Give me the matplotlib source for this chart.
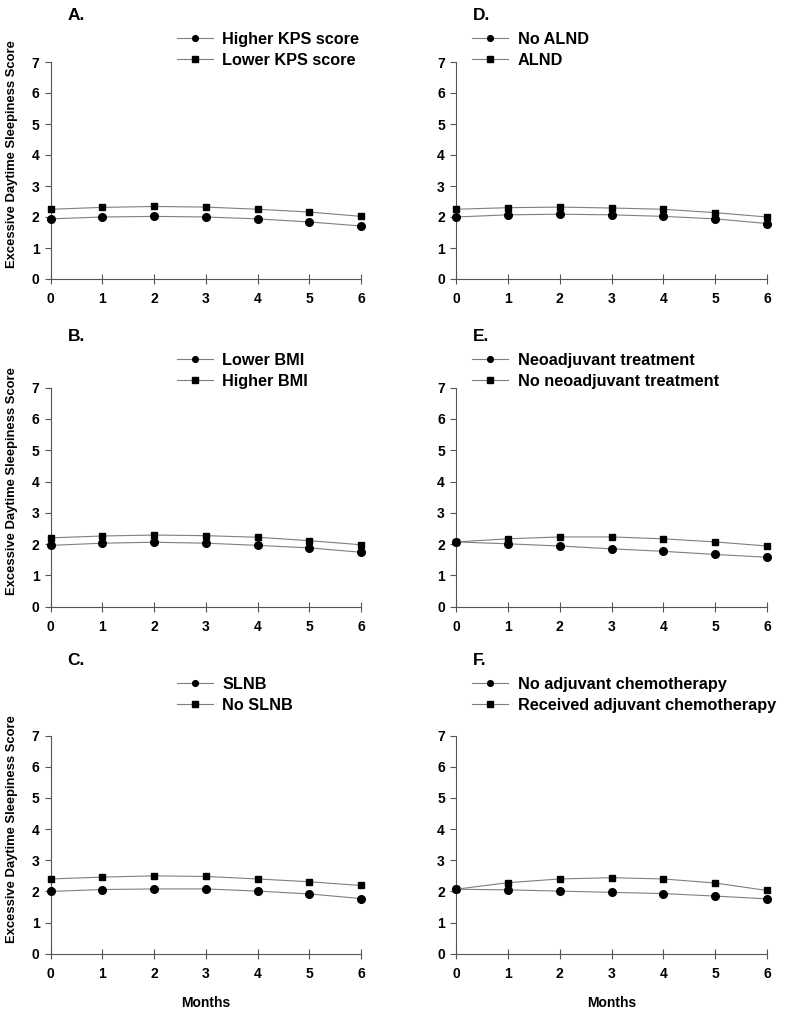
import matplotlib
matplotlib.use("Agg")
import matplotlib.pyplot as plt

months = [0, 1, 2, 3, 4, 5, 6]

panel_letters = ["A.", "B.", "C.", "D.", "E.", "F."]
circle_labels = ["Higher KPS score", "Lower BMI", "SLNB",
                 "No ALND", "Neoadjuvant treatment", "No adjuvant chemotherapy"]
square_labels = ["Lower KPS score", "Higher BMI", "No SLNB",
                 "ALND", "No neoadjuvant treatment", "Received adjuvant chemotherapy"]

circ_A = [1.94, 2.00, 2.02, 2.00, 1.94, 1.84, 1.71]
sq_A = [2.25, 2.31, 2.34, 2.32, 2.25, 2.16, 2.02]
circ_B = [1.96, 2.03, 2.06, 2.03, 1.96, 1.88, 1.74]
sq_B = [2.20, 2.26, 2.29, 2.27, 2.22, 2.11, 1.98]
circ_C = [2.00, 2.06, 2.08, 2.08, 2.01, 1.92, 1.77]
sq_C = [2.40, 2.46, 2.50, 2.48, 2.40, 2.31, 2.19]
circ_D = [2.00, 2.07, 2.09, 2.07, 2.02, 1.94, 1.79]
sq_D = [2.25, 2.30, 2.32, 2.29, 2.25, 2.14, 2.00]
circ_E = [2.07, 2.01, 1.94, 1.85, 1.77, 1.67, 1.58]
sq_E = [2.07, 2.17, 2.23, 2.23, 2.17, 2.07, 1.94]
circ_F = [2.07, 2.05, 2.01, 1.97, 1.93, 1.85, 1.76]
sq_F = [2.07, 2.28, 2.40, 2.44, 2.40, 2.27, 2.03]

circles = [circ_A, circ_B, circ_C, circ_D, circ_E, circ_F]
squares = [sq_A, sq_B, sq_C, sq_D, sq_E, sq_F]

yticks = [0, 1, 2, 3, 4, 5, 6, 7]
ylabel_text = 'Excessive Daytime Sleepiness Score'
xlabel_text = 'Months'

W, H = 789, 1013
plt.rcParams['font.family'] = ['Liberation Sans', 'DejaVu Sans']
fig = plt.figure(figsize=(W / 100, H / 100), dpi=100)

col_x = [50.7, 456]
col_w = [310.3, 311]
row_bottom = [279, 606.7, 953.7]
row_h = [217, 219, 218]
legend_handle_x = [177, 472]
legend_y = [41, 362, 686]
letter_y = [16, 336, 660]

for i in range(6):
    col = i // 3
    row = i % 3
    x0 = col_x[col] / W
    w = col_w[col] / W
    b = 1 - row_bottom[row] / H
    h = row_h[row] / H
    ax = fig.add_axes([x0, b, w, h])
    ax.plot(months, circles[i], color='#7f7f7f', lw=0.8, marker='o', ms=5.5,
            mfc='black', mec='black', label=circle_labels[i], zorder=3, clip_on=False)
    ax.plot(months, squares[i], color='#7f7f7f', lw=0.8, marker='s', ms=5,
            mfc='black', mec='black', label=square_labels[i], zorder=3, clip_on=False)
    ax.set_xlim(0, 6)
    ax.set_ylim(0, 7)
    ax.set_xticks(months)
    ax.set_yticks(yticks)
    for s in ['top', 'right']:
        ax.spines[s].set_visible(False)
    for s in ['left', 'bottom']:
        ax.spines[s].set_color('#555555')
        ax.spines[s].set_linewidth(0.8)
    ax.tick_params(axis='x', direction='inout', length=7, width=0.8, color='#555555',
                   labelsize=10, pad=6)
    ax.tick_params(axis='y', direction='out', length=4, width=0.8, color='#555555',
                   labelsize=10, pad=4)
    for lab in ax.get_xticklabels() + ax.get_yticklabels():
        lab.set_fontweight('bold')

    # panel letter
    fig.text((col_x[col] + 17) / W, 1 - letter_y[row] / H,
             panel_letters[i], fontsize=12.5, fontweight='bold', ha='left', va='center')

    leg = ax.legend(loc='upper left',
                    bbox_to_anchor=(legend_handle_x[col] / W, 1 - (legend_y[row] - 9) / H),
                    bbox_transform=fig.transFigure, frameon=False, fontsize=11.7,
                    handlelength=2.2, handletextpad=0.6, labelspacing=0.35,
                    markerscale=0.75, borderpad=0, borderaxespad=0)
    for t in leg.get_texts():
        t.set_fontweight('bold')

    if col == 0:
        axes_center = row_bottom[row] - row_h[row] / 2
        fig.text(12 / W, 1 - (axes_center - 16) / H, ylabel_text, rotation=90,
                 fontsize=9.4, fontweight='bold', ha='center', va='center')
    if row == 2:
        ax.set_xlabel(xlabel_text, fontsize=10, fontweight='bold', labelpad=11)

fig.savefig('out.png', dpi=100)
